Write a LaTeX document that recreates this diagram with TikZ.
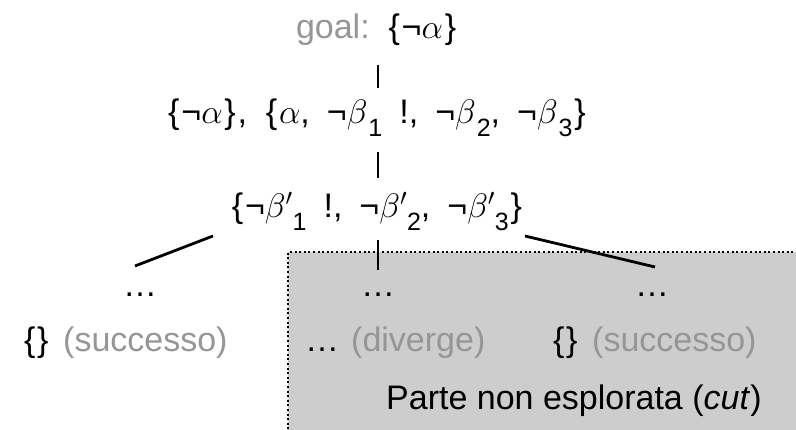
\RequirePackage{fix-cm}
\documentclass[tikz,border=0pt]{standalone}
\usepackage{amsmath}
\usepackage{fontspec}
\setmainfont{Liberation Sans}
\definecolor{txtgray}{RGB}{150,150,150}
\definecolor{boxgray}{RGB}{205,205,205}
\newcommand\lbr{\makebox[15pt]{\{}}
\newcommand\rbr{\makebox[15pt]{\}}}
\newcommand\subd[1]{\raisebox{-13pt}{\fontsize{25}{25}\selectfont #1}}
\newcommand\wsp{\hspace{17pt}}
\newcommand\nt{¬}
\newcommand\ga{$\alpha$}
\newcommand\gb{$\beta$}
\newcommand\gbp{$\beta'$}
\begin{document}
\begin{tikzpicture}[x=1pt,y=-1pt,
  font=\fontsize{34}{40}\selectfont,
  lbl/.style={inner sep=0pt, anchor=base},
  lblw/.style={inner sep=0pt, anchor=base west},
  conn/.style={line width=2.8pt}]
\useasboundingbox (0,0) rectangle (796,430);
% unexplored region
\fill[boxgray] (288,252) rectangle (800,434);
\draw[line width=2pt, dash pattern=on 2pt off 2.6pt] (288,434) -- (288,252) -- (800,252);
% nodes
\node[lbl] (goal) at (377,39) {\textcolor{txtgray}{goal:}\wsp\lbr\nt\ga\rbr};
\node[lbl] (l2) at (377,124) {\lbr\nt\ga\rbr,\wsp\lbr\ga,\wsp\nt\gb\kern1pt\subd{1}\wsp!,\wsp\nt\gb\kern1pt\subd{2},\wsp\nt\gb\kern1pt\subd{3}\rbr};
\node[lbl] (l3) at (377,218) {\lbr\nt\gbp\subd{1}\wsp!,\wsp\nt\gbp\subd{2},\wsp\nt\gbp\subd{3}\rbr};
\node[lbl] (d1) at (140,297) {…};
\node[lbl] (d2) at (378,297) {…};
\node[lbl] (d3) at (652,297) {…};
\node[lblw] (b1) at (22,352) {\lbr\kern-2pt\rbr\hspace{13pt}\textcolor{txtgray}{(successo)}};
\node[lblw] (b2) at (305,352) {…\hspace{12pt}\textcolor{txtgray}{(diverge)}};
\node[lblw] (b3) at (551,352) {\lbr\kern-2pt\rbr\hspace{13pt}\textcolor{txtgray}{(successo)}};
\node[lblw] (cut) at (386,410) {Parte non esplorata (\textit{cut})};
% connectors
\draw[conn] ([shift={(1,26)}]goal.base) -- ([shift={(1,-36)}]l2.base);
\draw[conn] ([shift={(1,28)}]l2.base) -- ([shift={(1,-40)}]l3.base);
\draw[conn] ([shift={(-164,18)}]l3.base) -- ([shift={(-5,-31)}]d1.base);
\draw[conn] ([shift={(1,22)}]l3.base) -- ([shift={(0,-27)}]d2.base);
\draw[conn] ([shift={(148,18)}]l3.base) -- ([shift={(3,-30)}]d3.base);
\end{tikzpicture}
\end{document}
